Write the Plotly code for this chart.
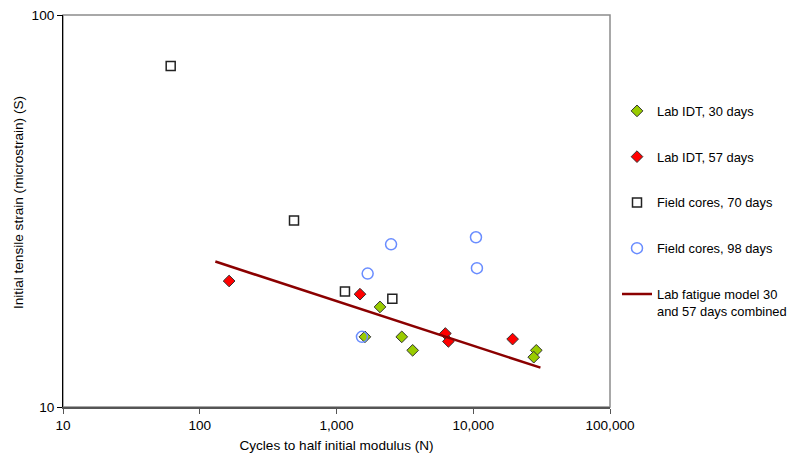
import plotly.graph_objects as go

# Data
lab30_N = [2080, 1614, 3000, 3605, 28900, 27700]
lab30_S = [18.0, 15.1, 15.1, 13.95, 13.95, 13.4]

lab57_N = [164, 1486, 6250, 6580, 19400]
lab57_S = [20.96, 19.4, 15.4, 14.7, 14.9]

field70_N = [61.3, 489, 1153, 2560]
field70_S = [74.1, 29.9, 19.7, 18.9]

field98_N = [2506, 1690, 10470, 10640, 1535]
field98_S = [26.0, 21.9, 27.1, 22.6, 15.1]

model_N = [130, 31000]
model_S = [23.5, 12.6]

x_tickvals = [10, 100, 1000, 10000, 100000]
x_ticktext = ["10", "100", "1,000", "10,000", "100,000"]
y_tickvals = [10, 100]
y_ticktext = ["10", "100"]

FONT = "Liberation Sans, Arial, sans-serif"
FS = 12.9
FS_AX = 13.6

fig = go.Figure()
fig.add_trace(go.Scatter(
    x=lab30_N, y=lab30_S, mode="markers", name="Lab IDT, 30 days", legendgroup="a",
    marker=dict(symbol="diamond", size=9, color="#99CC00", line=dict(color="#333333", width=1))))
fig.add_trace(go.Scatter(
    x=lab57_N, y=lab57_S, mode="markers", name="Lab IDT, 57 days", legendgroup="b",
    marker=dict(symbol="diamond", size=9, color="#FF0000", line=dict(color="#333333", width=1))))
fig.add_trace(go.Scatter(
    x=field70_N, y=field70_S, mode="markers", name="Field cores, 70 days", legendgroup="c",
    marker=dict(symbol="square", size=9, color="white", line=dict(color="#222222", width=1.5))))
fig.add_trace(go.Scatter(
    x=field98_N, y=field98_S, mode="markers", name="Field cores, 98 days", legendgroup="d",
    marker=dict(symbol="circle-open", size=11, color="#6A8DFF", line=dict(color="#6A8DFF", width=1.5))))
fig.add_trace(go.Scatter(
    x=model_N, y=model_S, mode="lines", name="Lab fatigue model 30<br>and 57 days combined",
    legendgroup="e", line=dict(color="#8B0000", width=2.5)))

fig.update_layout(
    width=795, height=459,
    margin=dict(l=55, r=193, t=7, b=60, autoexpand=False),
    paper_bgcolor="white", plot_bgcolor="white",
    font=dict(family=FONT, size=FS, color="black"),
    showlegend=True,
    legend=dict(xref="container", yref="container", x=609/795, y=1 - 88/459,
                xanchor="left", yanchor="top", tracegroupgap=26, valign="top",
                font=dict(family=FONT, size=FS, color="black"), bgcolor="rgba(0,0,0,0)"),
    shapes=[dict(type="rect", xref="paper", yref="paper", x0=0, y0=0, x1=1, y1=1,
                 line=dict(color="#8C8C8C", width=1.5), layer="below")],
    annotations=[dict(text="Initial tensile strain (microstrain) (S)", textangle=-90,
                      xref="paper", yref="paper", x=(10 - 55) / 547, y=(399 - 195) / 392,
                      xanchor="center", yanchor="middle", showarrow=False,
                      font=dict(family=FONT, size=FS_AX, color="black"))],
)
fig.update_xaxes(type="log", range=[1, 5], tickvals=x_tickvals, ticktext=x_ticktext,
                 showgrid=False, zeroline=False, showline=True, linecolor="#555555", linewidth=1.5,
                 ticks="outside", ticklen=5, tickcolor="#555555", automargin=False,
                 ticklabeloverflow="allow",
                 title=dict(text="Cycles to half initial modulus (N)", font=dict(size=FS_AX), standoff=8),
                 tickfont=dict(size=FS_AX))
fig.update_yaxes(type="log", range=[1, 2], tickvals=y_tickvals, ticktext=y_ticktext,
                 showgrid=False, zeroline=False, showline=True, linecolor="black", linewidth=1,
                 ticks="outside", ticklen=5, tickcolor="black", automargin=False,
                 ticklabeloverflow="allow",
                 tickfont=dict(size=FS_AX))

fig.write_html("out.html")
